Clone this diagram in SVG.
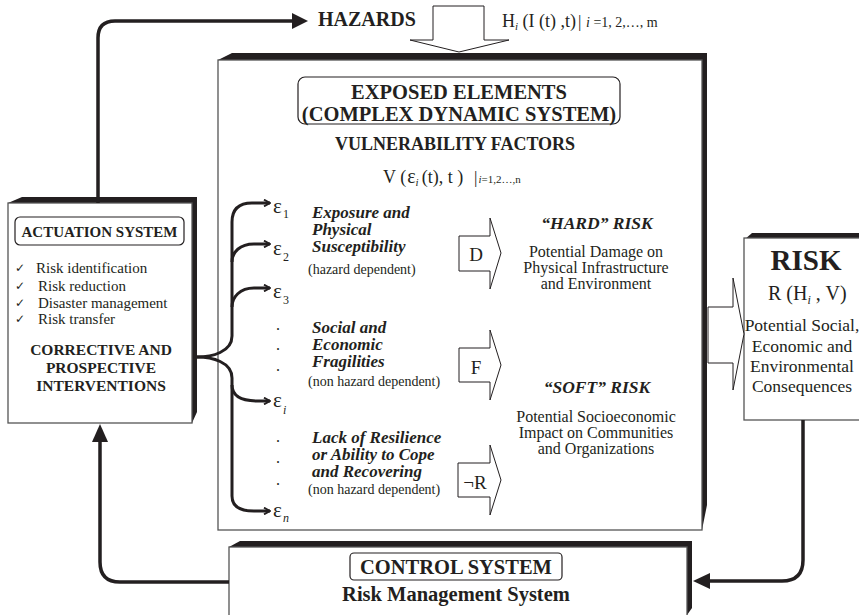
<svg xmlns="http://www.w3.org/2000/svg" width="859" height="615" viewBox="0 0 859 615">
<style>
text{font-family:"Liberation Serif","Times New Roman",serif;fill:#231f20}
.b{font-weight:bold}
.bi{font-weight:bold;font-style:italic}
.it{font-style:italic}
.c{text-anchor:middle}
.box{fill:#fff;stroke:#555;stroke-width:1.3}
.sh{fill:#231f20}
.lbl{fill:none;stroke:#231f20;stroke-width:1.2}
.conn{fill:none;stroke:#231f20;stroke-width:3.5}
.brace{fill:none;stroke:#231f20;stroke-width:3}
.hol{fill:#fff;stroke:#231f20;stroke-width:1}
.ah{fill:#231f20}
.chk{font-family:"DejaVu Sans",sans-serif;font-size:12px}
</style>
<defs>
<marker id="sa" viewBox="0 0 8 8" refX="7" refY="4" markerWidth="8" markerHeight="8" markerUnits="userSpaceOnUse" orient="auto"><path d="M1,0.6 L7,4 L1,7.4" fill="none" stroke="#231f20" stroke-width="1.8"/></marker>
</defs>

<!-- Exposed elements main box -->
<g id="exposed">
<polygon class="sh" points="218,60 232,53 707,53 707,505 702,530 702,60"/>
<rect class="box" x="218" y="60" width="484" height="470"/>
<rect class="lbl" x="298" y="77" width="322" height="47" rx="7"/>
<text class="b c" x="459" y="99" font-size="20.5">EXPOSED ELEMENTS</text>
<text class="b c" x="459" y="121" font-size="20.5">(COMPLEX DYNAMIC SYSTEM)</text>
<text class="b c" x="455" y="150" font-size="18">VULNERABILITY FACTORS</text>
<text x="383" y="183" font-size="18">V (<tspan font-size="20" dx="1">ε</tspan><tspan class="it" font-size="11" dy="3">i</tspan><tspan dy="-3" dx="3">(t), t )</tspan></text>
<text x="474" y="183" font-size="17">|<tspan class="it" font-size="11" dx="1">i</tspan><tspan font-size="11">=1,2…,n</tspan></text>
</g>

<!-- vulnerability factor labels -->
<g id="factors">
<text x="273" y="213" font-size="21">ε</text><text x="283" y="218" font-size="12">1</text>
<text x="273" y="255" font-size="21">ε</text><text x="283" y="261" font-size="12">2</text>
<text x="273" y="298" font-size="21">ε</text><text x="283" y="304" font-size="12">3</text>
<text x="273" y="407" font-size="21">ε</text><text class="it" x="283" y="414" font-size="12">i</text>
<text x="273" y="517" font-size="21">ε</text><text class="it" x="283" y="522" font-size="12">n</text>
<g font-size="16">
<text x="276" y="330">.</text><text x="276" y="350">.</text><text x="276" y="371">.</text>
<text x="276" y="442">.</text><text x="276" y="463">.</text><text x="276" y="485">.</text>
</g>
<text class="bi" x="312" y="218" font-size="17">Exposure and</text>
<text class="bi" x="312" y="235" font-size="17">Physical</text>
<text class="bi" x="312" y="252" font-size="17">Susceptibility</text>
<text x="308" y="274" font-size="14">(hazard dependent)</text>
<text class="bi" x="312" y="333" font-size="17">Social and</text>
<text class="bi" x="312" y="350" font-size="17">Economic</text>
<text class="bi" x="312" y="367" font-size="17">Fragilities</text>
<text x="308" y="386" font-size="14">(non hazard dependent)</text>
<text class="bi" x="312" y="443" font-size="17">Lack of Resilience</text>
<text class="bi" x="312" y="460" font-size="17">or Ability to Cope</text>
<text class="bi" x="312" y="477" font-size="17">and Recovering</text>
<text x="308" y="494" font-size="14">(non hazard dependent)</text>
</g>

<!-- D / F / R arrows -->
<g id="arrow-D"><polygon class="hol" points="459,236 490,236 490,218 501,253 490,289 490,271 459,271"/><text class="c" x="476" y="261" font-size="19">D</text></g>
<g id="arrow-F"><polygon class="hol" points="459,348 490,348 490,330 501,365 490,400 490,382 459,382"/><text class="c" x="476" y="374" font-size="19">F</text></g>
<g id="arrow-R"><polygon class="hol" points="458,463 490,463 490,445 501,480 490,515 490,497 458,497"/><text class="c" x="475" y="489" font-size="19">¬R</text></g>

<g id="hard-risk">
<text class="bi c" x="597" y="229" font-size="17.5">“HARD” RISK</text>
<text class="c" x="596" y="257" font-size="16">Potential Damage on</text>
<text class="c" x="596" y="273" font-size="16">Physical Infrastructure</text>
<text class="c" x="596" y="289" font-size="16">and Environment</text>
</g>
<g id="soft-risk">
<text class="bi c" x="597" y="393" font-size="17.5">“SOFT” RISK</text>
<text class="c" x="596" y="422" font-size="16">Potential Socioeconomic</text>
<text class="c" x="596" y="438" font-size="16">Impact on Communities</text>
<text class="c" x="596" y="454" font-size="16">and Organizations</text>
</g>

<!-- Hazards -->
<g id="hazards">
<polygon class="hol" points="433,6 484,6 484,40 509,40 459,52 410,40 433,40"/>
<text class="b" x="318" y="26" font-size="20">HAZARDS</text>
<text x="502" y="27" font-size="18">H<tspan class="it" font-size="11" dy="3">i</tspan><tspan dy="-3"> (I (t) ,t)</tspan></text>
<text x="578" y="27" font-size="17">|</text>
<text x="586" y="27" font-size="14"><tspan class="it">i</tspan> =1, 2,…, m</text>
</g>

<!-- Actuation system -->
<g id="actuation">
<polygon class="sh" points="8,203 22,197 197,197 197,412 192,423 192,203"/>
<rect class="box" x="8" y="203" width="184" height="220"/>
<rect class="lbl" x="15" y="217" width="169" height="28" rx="5"/>
<text class="b c" x="99.5" y="237" font-size="15">ACTUATION SYSTEM</text>
<text class="chk" x="15" y="272">✓</text><text x="36" y="273" font-size="15">Risk identification</text>
<text class="chk" x="15" y="290">✓</text><text x="38" y="291" font-size="15">Risk reduction</text>
<text class="chk" x="15" y="307">✓</text><text x="38" y="308" font-size="15">Disaster management</text>
<text class="chk" x="15" y="323">✓</text><text x="38" y="324" font-size="15">Risk transfer</text>
<text class="b c" x="101" y="355" font-size="15.5">CORRECTIVE AND</text>
<text class="b c" x="101" y="373" font-size="15.5">PROSPECTIVE</text>
<text class="b c" x="101" y="391" font-size="15.5">INTERVENTIONS</text>
</g>

<!-- Risk -->
<g id="risk">
<polygon class="sh" points="744,240 752,233 859,233 859,420 744,420"/>
<rect class="box" x="744" y="238" width="125" height="182"/>
<polygon class="hol" points="708,307 733,307 733,278 744,334 733,390 733,363 708,363"/>
<text class="b c" x="806" y="270" font-size="29">RISK</text>
<text x="768" y="300" font-size="20">R (H<tspan class="it" font-size="12" dy="4">i</tspan><tspan dy="-4"> , V)</tspan></text>
<text class="c" x="802" y="331" font-size="17.5">Potential Social,</text>
<text class="c" x="802" y="352" font-size="17.5">Economic and</text>
<text class="c" x="802" y="372" font-size="17.5">Environmental</text>
<text class="c" x="802" y="392" font-size="17.5">Consequences</text>
</g>

<!-- Control system -->
<g id="control">
<polygon class="sh" points="229,547 240,541 692,541 692,608 687,615 229,615"/>
<rect class="box" x="229" y="547" width="458" height="80"/>
<rect class="lbl" x="350" y="553" width="212" height="27" rx="4"/>
<text class="b c" x="456" y="574" font-size="20.5">CONTROL SYSTEM</text>
<text class="b c" x="456" y="601" font-size="20.5">Risk Management System</text>
</g>

<!-- Connectors -->
<g id="connectors">
<path class="conn" d="M98,203 L98,38 Q98,21 115,21 L293,21"/>
<polygon class="ah" points="292,13 308,21 292,29"/>
<path class="conn" d="M229,582 L120,582 Q100,582 100,562 L100,441"/>
<polygon class="ah" points="92,442 100,424 108,442"/>
<path class="conn" d="M803,420 L803,560 Q803,581 782,581 L709,581"/>
<polygon class="ah" points="710,573 693,581 710,589"/>
<path class="brace" marker-end="url(#sa)" d="M197,357 C212,357 232,352 232,336 L232,222 C232,210 238,203 252,203 L270,203"/>
<path class="brace" marker-end="url(#sa)" d="M232,262 C232,252 240,244 254,244 L270,244"/>
<path class="brace" marker-end="url(#sa)" d="M232,307 C232,297 240,288 254,288 L270,288"/>
<path class="brace" marker-end="url(#sa)" d="M197,357 C212,357 232,362 232,378 L232,496 C232,506 240,511 254,511 L270,511"/>
<path class="brace" marker-end="url(#sa)" d="M232,385 C232,396 242,401 258,401 L270,401"/>
</g>
</svg>
